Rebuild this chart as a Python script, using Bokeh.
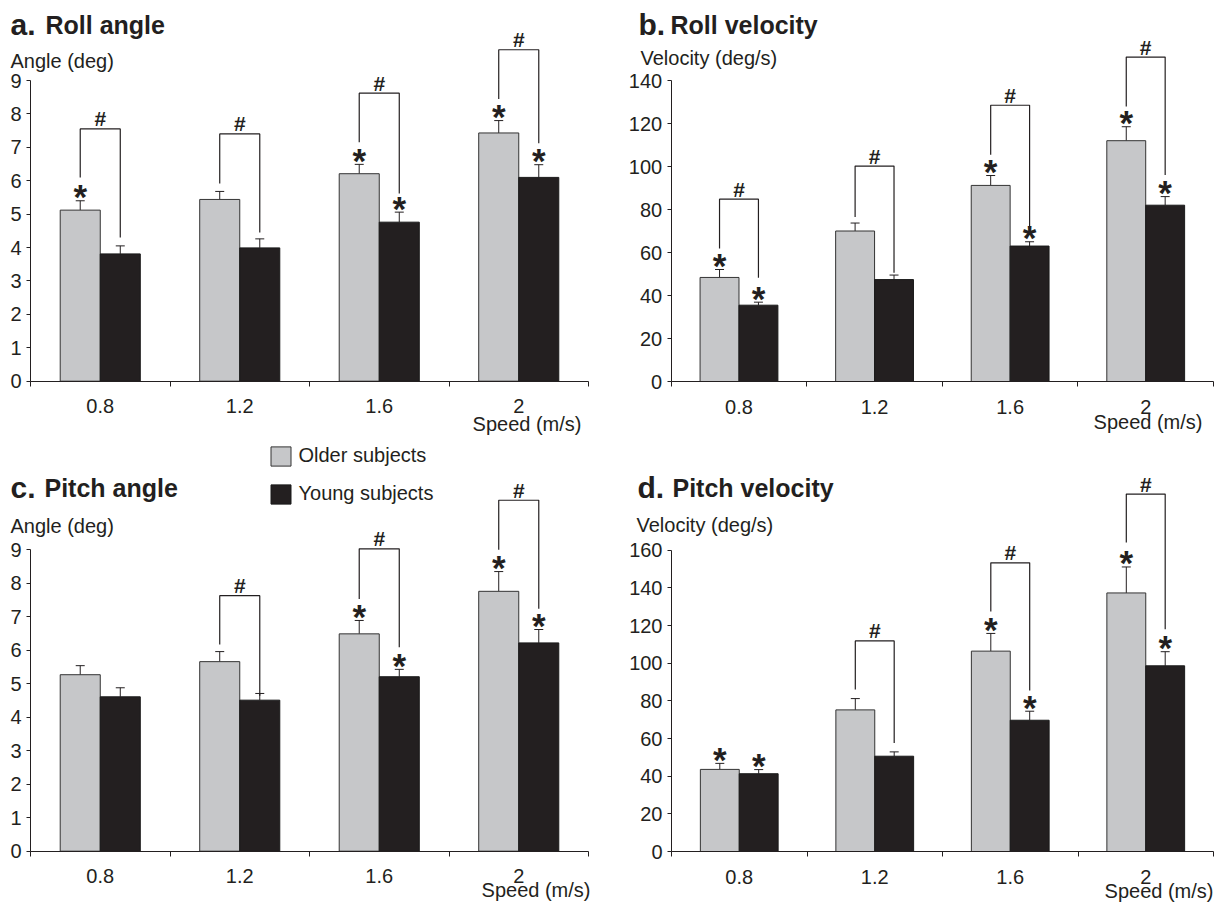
from bokeh.plotting import figure
from bokeh.layouts import column, row
from bokeh.models import (ColumnDataSource, Whisker, TeeHead, Label, Legend,
                          LegendItem, FixedTicker, Range1d, LinearAxis)
from bokeh.core.properties import value
from bokeh.embed import file_html
from bokeh.resources import INLINE

# ---------------- data ----------------
speeds = ["0.8", "1.2", "1.6", "2"]
series_names = ["Older subjects", "Young subjects"]

# a. Roll angle (deg)
roll_angle_older = [5.12, 5.44, 6.21, 7.43]
roll_angle_older_err = [0.28, 0.24, 0.28, 0.37]
roll_angle_young = [3.81, 3.99, 4.76, 6.10]
roll_angle_young_err = [0.24, 0.27, 0.30, 0.38]
roll_angle_star_older = [1, 0, 1, 1]
roll_angle_star_young = [0, 0, 1, 1]
roll_angle_br_top = [7.55, 7.40, 8.62, 9.92]
roll_angle_br_left = [6.10, 5.92, 7.15, 8.45]
roll_angle_br_right = [4.30, 4.45, 5.62, 7.12]

# b. Roll velocity (deg/s)
roll_vel_older = [48.4, 70.0, 91.2, 112.0]
roll_vel_older_err = [3.7, 3.7, 4.6, 6.5]
roll_vel_young = [35.5, 47.4, 63.0, 82.0]
roll_vel_young_err = [1.4, 2.1, 2.0, 4.0]
roll_vel_star_older = [1, 0, 1, 1]
roll_vel_star_young = [1, 0, 1, 1]
roll_vel_br_top = [84.8, 100.2, 128.5, 150.9]
roll_vel_br_left = [61.9, 76.5, 105.5, 127.9]
roll_vel_br_right = [48.2, 50.6, 72.3, 96.1]

# c. Pitch angle (deg)
pitch_angle_older = [5.27, 5.66, 6.49, 7.76]
pitch_angle_older_err = [0.27, 0.30, 0.40, 0.59]
pitch_angle_young = [4.61, 4.51, 5.21, 6.22]
pitch_angle_young_err = [0.27, 0.20, 0.22, 0.40]
pitch_angle_star_older = [0, 0, 1, 1]
pitch_angle_star_young = [0, 0, 1, 1]
pitch_angle_br_top = [None, 7.63, 9.03, 10.48]
pitch_angle_br_left = [None, 6.17, 7.53, 9.00]
pitch_angle_br_right = [None, 4.64, 6.09, 7.24]

# d. Pitch velocity (deg/s)
pitch_vel_older = [43.6, 75.2, 106.4, 137.3]
pitch_vel_older_err = [3.2, 6.0, 9.4, 13.8]
pitch_vel_young = [41.3, 50.6, 69.7, 98.6]
pitch_vel_young_err = [2.2, 2.3, 4.8, 7.5]
pitch_vel_star_older = [1, 0, 1, 1]
pitch_vel_star_young = [1, 0, 1, 1]
pitch_vel_br_top = [None, 111.8, 153.3, 189.8]
pitch_vel_br_left = [None, 86.0, 127.4, 164.1]
pitch_vel_br_right = [None, 57.6, 85.5, 118.0]

angle_ticks = [0, 1, 2, 3, 4, 5, 6, 7, 8, 9]
roll_vel_ticks = [0, 20, 40, 60, 80, 100, 120, 140]
pitch_vel_ticks = [0, 20, 40, 60, 80, 100, 120, 140, 160]

# ---------------- style ----------------
FONT = "Liberation Sans"
INK = "#231f20"
OLD_FILL = "#c6c7c9"
YOUNG_FILL = "#231f20"
BAR_W = 0.287


def make_panel(letter, title, ylabel, ticks, older, older_err, young, young_err,
               star_o, star_y, br_top, br_left, br_right, box, axis_px, txt, legend=None):
    ox, oy, W, H = box
    x0, x4, y0, ytop = axis_px
    n = len(speeds)
    px_x = (x4 - x0) / n
    px_y = (y0 - ytop) / ticks[-1]

    def d(ax, ay):
        return (ax - x0) / px_x, (y0 - ay) / px_y

    p = figure(width=W, height=H, output_backend="svg", toolbar_location=None,
               x_range=Range1d((ox - x0) / px_x, (ox + W - x0) / px_x),
               y_range=Range1d(-(oy + H - y0) / px_y, (y0 - oy) / px_y),
               x_axis_location=None, y_axis_location=None, min_border=0,
               outline_line_color=None, background_fill_color="white",
               border_fill_color="white")
    p.grid.visible = False

    idx = list(range(n))
    xo = [i + 0.5 - BAR_W / 2 for i in idx]
    xy = [i + 0.5 + BAR_W / 2 for i in idx]

    so = ColumnDataSource(dict(x=xo, value=older, upper=[v + e for v, e in zip(older, older_err)]))
    sy = ColumnDataSource(dict(x=xy, value=young, upper=[v + e for v, e in zip(young, young_err)]))

    r_old = p.vbar(x="x", top="value", bottom=0, width=BAR_W, source=so,
                   fill_color=OLD_FILL, line_color="#333333", line_width=1)
    r_young = p.vbar(x="x", top="value", bottom=0, width=BAR_W, source=sy,
                     fill_color=YOUNG_FILL, line_color="#1a1a1a", line_width=1)

    for src in (so, sy):
        p.add_layout(Whisker(source=src, base="x", upper="upper", lower="value",
                             line_color=INK, line_width=1, lower_head=None,
                             upper_head=TeeHead(size=9, line_color=INK, line_width=1)))

    # significance brackets (#)
    bx, byy, hx, hy = [], [], [], []
    for i in idx:
        if br_top[i] is None:
            continue
        bx.append([xo[i], xo[i], xy[i], xy[i]])
        byy.append([br_left[i], br_top[i], br_top[i], br_right[i]])
        hx.append((xo[i] + xy[i]) / 2)
        hy.append(br_top[i])
    p.multi_line(xs=bx, ys=byy, line_color=INK, line_width=1.2)
    p.text(x=hx, y=hy, text=["#"] * len(hx), text_font=value(FONT),
           text_font_size=value("21px"), text_font_style="bold", text_color=INK,
           text_align="center", text_baseline="alphabetic", y_offset=-10)

    # stars (*)
    sx_, sy_ = [], []
    for i in idx:
        if star_o[i]:
            sx_.append(xo[i]); sy_.append(older[i] + older_err[i])
        if star_y[i]:
            sx_.append(xy[i]); sy_.append(young[i] + young_err[i])
    p.text(x=sx_, y=sy_, text=["*"] * len(sx_), text_font=value(FONT),
           text_font_size=value("35px"), text_font_style="bold", text_color=INK,
           text_align="center", text_baseline="alphabetic", y_offset=-4)

    # axes (fixed inside the frame)
    xa = LinearAxis(fixed_location=0)
    xa.ticker = FixedTicker(ticks=[i + 0.5 for i in idx], minor_ticks=list(range(n + 1)))
    xa.major_label_overrides = {i + 0.5: s for i, s in zip(idx, speeds)}
    xa.bounds = (0, n)
    xa.major_tick_out = 0
    xa.major_tick_in = 0
    xa.major_tick_line_color = None
    xa.minor_tick_out = 5
    xa.minor_tick_in = 0
    xa.minor_tick_line_color = INK
    xa.axis_line_color = INK
    xa.major_label_text_font = FONT
    xa.major_label_text_font_size = "20px"
    xa.major_label_text_color = INK
    xa.major_label_standoff = 13
    p.add_layout(xa, "below")

    ya = LinearAxis(fixed_location=0)
    ya.ticker = FixedTicker(ticks=ticks, minor_ticks=[])
    ya.bounds = (0, ticks[-1])
    ya.major_tick_out = 4
    ya.major_tick_in = 0
    ya.major_tick_line_color = INK
    ya.axis_line_color = INK
    ya.major_label_text_font = FONT
    ya.major_label_text_font_size = "20px"
    ya.major_label_text_color = INK
    ya.major_label_standoff = 5
    p.add_layout(ya, "left")

    # texts (baselines given in page pixels)
    (lx_letter, lx_title, base_title), (lx_y, base_y), (rx_speed, base_speed) = txt
    tx, ty = d(lx_letter, base_title)
    p.add_layout(Label(x=tx, y=ty, text=letter, text_font=FONT, text_font_size="30px",
                       text_font_style="bold", text_color=INK, text_baseline="alphabetic"))
    tx2, _ = d(lx_title, base_title)
    p.add_layout(Label(x=tx2, y=ty, text=title, text_font=FONT, text_font_size="25px",
                       text_font_style="bold", text_color=INK, text_baseline="alphabetic"))
    lx, ly = d(lx_y, base_y)
    p.add_layout(Label(x=lx, y=ly, text=ylabel, text_font=FONT, text_font_size="20px",
                       text_color=INK, text_baseline="alphabetic"))
    sxp, syp = d(rx_speed, base_speed)
    p.add_layout(Label(x=sxp, y=syp, text="Speed (m/s)", text_font=FONT, text_font_size="20px",
                       text_color=INK, text_baseline="alphabetic", text_align="right"))

    if legend is not None:
        lg = Legend(items=[LegendItem(label=series_names[0], renderers=[r_old]),
                           LegendItem(label=series_names[1], renderers=[r_young])],
                    location=(legend[0] - ox, oy + H - legend[1]),
                    border_line_color=None, background_fill_alpha=0,
                    padding=0, margin=0, spacing=14, glyph_width=25, glyph_height=24,
                    label_standoff=6, label_text_font=FONT, label_text_font_size="20px",
                    label_text_color=INK, label_height=24)
        p.add_layout(lg)
    return p


pa = make_panel("a.", "Roll angle", "Angle (deg)", angle_ticks,
                roll_angle_older, roll_angle_older_err, roll_angle_young, roll_angle_young_err,
                roll_angle_star_older, roll_angle_star_young,
                roll_angle_br_top, roll_angle_br_left, roll_angle_br_right,
                box=(0, 0, 620, 444), axis_px=(30, 588, 380.7, 80),
                txt=((10, 45, 24), (10, 60), (581, 423)))
pb = make_panel("b.", "Roll velocity", "Velocity (deg/s)", roll_vel_ticks,
                roll_vel_older, roll_vel_older_err, roll_vel_young, roll_vel_young_err,
                roll_vel_star_older, roll_vel_star_young,
                roll_vel_br_top, roll_vel_br_left, roll_vel_br_right,
                box=(620, 0, 598, 444), axis_px=(670.7, 1213, 381, 80),
                txt=((638, 670, 24), (640, 57), (1202, 421)))
pc = make_panel("c.", "Pitch angle", "Angle (deg)", angle_ticks,
                pitch_angle_older, pitch_angle_older_err, pitch_angle_young, pitch_angle_young_err,
                pitch_angle_star_older, pitch_angle_star_young,
                pitch_angle_br_top, pitch_angle_br_left, pitch_angle_br_right,
                box=(0, 444, 620, 461), axis_px=(30, 588, 850.7, 549.3),
                txt=((10, 44, 487), (10, 525), (590, 889)), legend=(267.5, 505.6))
pd_ = make_panel("d.", "Pitch velocity", "Velocity (deg/s)", pitch_vel_ticks,
                 pitch_vel_older, pitch_vel_older_err, pitch_vel_young, pitch_vel_young_err,
                 pitch_vel_star_older, pitch_vel_star_young,
                 pitch_vel_br_top, pitch_vel_br_left, pitch_vel_br_right,
                 box=(620, 444, 598, 461), axis_px=(671, 1213, 851, 549.7),
                 txt=((637, 672, 487), (636, 524), (1213, 890)))

layout = column(row(pa, pb), row(pc, pd_))
open("out.html", "w").write(file_html(layout, INLINE))
